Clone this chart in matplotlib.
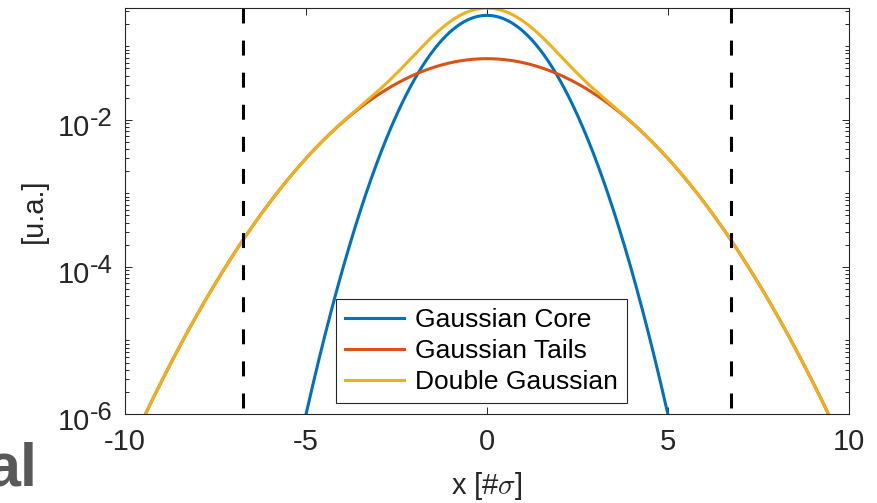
import numpy as np
import matplotlib
matplotlib.use("Agg")
from matplotlib import pyplot as plt
from matplotlib.ticker import LogLocator, FixedLocator, NullFormatter
import matplotlib.transforms as mtransforms

# parametres
core_weight = 0.66      # poids du coeur
core_sigma = 1.0
tail_sigma = 2.0
cut_x = [-6.75, 6.75]   # lignes verticales pointillees
x_ticks = [-10, -5, 0, 5, 10]
y_ticks = [1e-6, 1e-4, 1e-2]
y_exps = ["-6", "-4", "-2"]
labels = ["Gaussian Core", "Gaussian Tails", "Double Gaussian"]
colors = ["#0072BD", "#D95319", "#EDB120"]

plt.rcParams["font.family"] = ["Liberation Sans", "DejaVu Sans"]
plt.rcParams["mathtext.fontset"] = "cm"
plt.rcParams["axes.unicode_minus"] = False

x = np.linspace(-10, 10, 2001)
core = core_weight * np.exp(-x**2 / (2 * core_sigma**2)) / (np.sqrt(2 * np.pi) * core_sigma)
tails = (1 - core_weight) * np.exp(-x**2 / (2 * tail_sigma**2)) / (np.sqrt(2 * np.pi) * tail_sigma)
double = core + tails
ytop = double.max()

fig = plt.figure(figsize=(8.77, 5.03), dpi=100)
ax = fig.add_axes([0.1425, 0.177, 0.8255, 0.807])

for y, lab, c in zip([core, tails, double], labels, colors):
    ax.plot(x, y, color=c, lw=2.2, label=lab)

for xc in cut_x:
    ax.plot([xc, xc], [ytop, 1e-6], color="black", lw=2.2, dashes=(4.9, 5.6))

ax.set_yscale("log")
ax.set_xlim(-10, 10)
ax.set_ylim(1e-6, ytop)
ax.xaxis.set_major_locator(FixedLocator(x_ticks))
ax.yaxis.set_major_locator(FixedLocator(y_ticks))
ax.yaxis.set_minor_locator(LogLocator(base=10, subs=np.arange(1, 10), numticks=50))
ax.yaxis.set_minor_formatter(NullFormatter())
ax.set_yticklabels([])

dark = "#262626"
for s in ax.spines.values():
    s.set_color(dark)
    s.set_linewidth(0.8)
ax.tick_params(which="both", direction="in", top=True, right=True, colors=dark,
               labelsize=21, width=0.7)
ax.tick_params(which="major", length=5)
ax.tick_params(axis="x", pad=10)
ax.tick_params(which="minor", length=3)

# etiquettes 10^n de l'axe y (base + exposant)
trans = mtransforms.blended_transform_factory(ax.transAxes, ax.transData)
for yt, e in zip(y_ticks, y_exps):
    ax.annotate("10", xy=(0, yt), xycoords=trans, xytext=(-25.5, -11.5),
                textcoords="offset points", ha="right", va="baseline",
                fontsize=21, color=dark, annotation_clip=False)
    ax.annotate(e, xy=(0, yt), xycoords=trans, xytext=(-25.5, -4.3),
                textcoords="offset points", ha="left", va="baseline",
                fontsize=18.5, color=dark, annotation_clip=False)

fig.text(487 / 877, 0.033, r"x [#$\sigma$]", fontsize=21, color=dark, ha="center", va="center")
fig.text(34 / 877, 0.5805, "[u.a.]", fontsize=21, color=dark, ha="center", va="center", rotation=90)

leg = ax.legend(loc="lower left", bbox_to_anchor=(0.291, 0.027), fontsize=19,
                handlelength=2.25, handletextpad=0.4, borderpad=0.35, labelspacing=0.26,
                fancybox=False, framealpha=1, edgecolor="#262626", borderaxespad=0)
leg.get_frame().set_linewidth(0.8)

fig.text(-0.016, 0.035, "al", fontsize=44, fontweight="bold", color="#595959")

fig.savefig("out.png", dpi=100)
